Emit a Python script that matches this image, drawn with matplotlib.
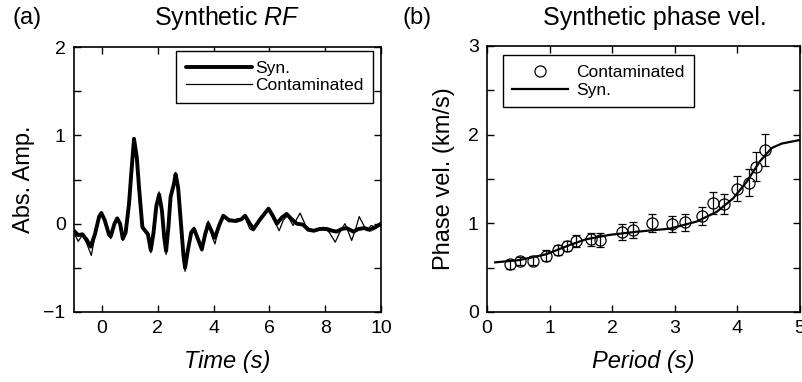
import matplotlib
matplotlib.use("Agg")
import matplotlib.pyplot as plt
from matplotlib.ticker import MultipleLocator, FuncFormatter

plt.rcParams['font.family'] = ['Liberation Sans', 'DejaVu Sans']
plt.rcParams['mathtext.fontset'] = 'custom'
plt.rcParams['mathtext.rm'] = 'Liberation Sans'
plt.rcParams['mathtext.it'] = 'Liberation Sans:italic'

# Panel (a): receiver functions
t_syn = [-1.0, -0.85, -0.70, -0.55, -0.40, -0.25, -0.10, -0.02, 0.10, 0.25, 0.32, 0.45, 0.55,
         0.65, 0.75, 0.85, 0.97, 1.05, 1.15, 1.25, 1.33, 1.45, 1.55, 1.65, 1.75, 1.85, 1.95,
         2.05, 2.15, 2.23, 2.30, 2.38, 2.46, 2.58, 2.64, 2.73, 2.82, 2.92, 2.98, 3.08, 3.20,
         3.30, 3.45, 3.58, 3.70, 3.81, 3.95, 4.05, 4.20, 4.35, 4.55, 4.80, 5.00, 5.13, 5.30,
         5.43, 5.67, 5.97, 6.12, 6.27, 6.45, 6.62, 6.80, 6.98, 7.20, 7.40, 7.60, 7.80, 8.06,
         8.25, 8.41, 8.60, 8.77, 9.01, 9.20, 9.40, 9.60, 9.80, 10.0]
a_syn = [-0.08, -0.13, -0.12, -0.18, -0.26, -0.12, 0.08, 0.12, 0.04, -0.12, -0.14, 0.0, 0.06,
         0.0, -0.17, -0.10, 0.22, 0.56, 0.96, 0.75, 0.41, -0.04, -0.08, -0.12, -0.30, -0.10, 0.20,
         0.33, 0.15, -0.15, -0.31, -0.05, 0.30, 0.45, 0.56, 0.41, 0.05, -0.35, -0.50, -0.30, -0.10,
         -0.06, -0.18, -0.29, -0.12, 0.0, -0.10, -0.16, -0.02, 0.09, 0.04, 0.03, 0.05, 0.09, 0.0,
         -0.06, 0.05, 0.17, 0.09, 0.0, 0.07, 0.11, 0.05, 0.0, -0.01, -0.07, -0.08, -0.06, -0.06,
         -0.08, -0.09, -0.06, -0.05, -0.09, -0.06, -0.05, -0.07, -0.04, 0.0]
t_con = [-1.0, -0.85, -0.70, -0.55, -0.38, -0.25, -0.10, -0.02, 0.10, 0.25, 0.32, 0.45, 0.55,
         0.65, 0.75, 0.85, 0.97, 1.05, 1.15, 1.25, 1.33, 1.45, 1.55, 1.65, 1.75, 1.85, 1.95,
         2.05, 2.15, 2.23, 2.30, 2.38, 2.46, 2.58, 2.64, 2.73, 2.82, 2.92, 2.98, 3.08, 3.20,
         3.30, 3.45, 3.58, 3.70, 3.81, 3.95, 4.05, 4.20, 4.35, 4.55, 4.80, 5.00, 5.13, 5.30,
         5.43, 5.67, 5.97, 6.15, 6.35, 6.50, 6.65, 6.85, 7.10, 7.30, 7.45, 7.64, 7.94, 8.15,
         8.36, 8.55, 8.71, 8.95, 9.10, 9.22, 9.35, 9.49, 9.65, 9.80, 10.0]
a_con = [-0.10, -0.20, -0.13, -0.22, -0.36, -0.14, 0.08, 0.13, 0.03, -0.14, -0.17, 0.0, 0.07,
         0.0, -0.19, -0.08, 0.26, 0.58, 0.94, 0.72, 0.40, -0.06, -0.08, -0.14, -0.33, -0.12, 0.22,
         0.36, 0.16, -0.16, -0.35, -0.06, 0.30, 0.47, 0.58, 0.42, 0.05, -0.40, -0.54, -0.32, -0.08,
         -0.04, -0.18, -0.31, -0.10, 0.03, -0.15, -0.23, -0.03, 0.09, 0.02, 0.05, 0.06, 0.07, -0.06,
         -0.08, 0.05, 0.17, 0.05, -0.08, 0.04, 0.09, -0.02, 0.12, -0.02, -0.06, -0.08, -0.04, -0.10,
         -0.21, -0.08, 0.0, -0.19, -0.05, 0.08, 0.0, -0.08, -0.02, -0.04, -0.02]

# Panel (b): phase velocity
period = [0.36, 0.53, 0.73, 0.95, 1.13, 1.27, 1.42, 1.66, 1.81, 2.16, 2.34, 2.64, 2.95,
          3.16, 3.44, 3.61, 3.78, 3.99, 4.19, 4.30, 4.44]
vel = [0.54, 0.575, 0.58, 0.635, 0.70, 0.745, 0.80, 0.82, 0.81, 0.905, 0.93, 1.0, 0.99,
       1.01, 1.08, 1.23, 1.22, 1.39, 1.46, 1.64, 1.83]
err = [0.05, 0.05, 0.05, 0.06, 0.06, 0.06, 0.07, 0.07, 0.08, 0.09, 0.09, 0.10, 0.09,
       0.10, 0.10, 0.12, 0.11, 0.14, 0.15, 0.16, 0.18]
p_syn = [0.13, 0.51, 0.94, 1.32, 1.58, 1.96, 2.39, 2.92, 3.35, 3.67, 3.93, 4.15, 4.36,
         4.55, 4.71, 5.0]
v_syn = [0.56, 0.585, 0.65, 0.755, 0.82, 0.87, 0.905, 0.94, 1.02, 1.13, 1.28, 1.47, 1.70,
         1.85, 1.90, 1.94]

fig = plt.figure(figsize=(8.02, 3.82), dpi=100)
W, H = 802, 382
axa = fig.add_axes([74 / W, 1 - 312 / H, (381 - 74) / W, (312 - 47) / H])
axb = fig.add_axes([487 / W, 1 - 312 / H, (800 - 487) / W, (312 - 46) / H])

fmt_int = FuncFormatter(lambda v, p: ("\u2212%d" % abs(round(v))) if v < 0 else "%d" % round(v))

for ax in (axa, axb):
    for s in ax.spines.values():
        s.set_linewidth(1.2)
    ax.tick_params(which='both', direction='in', top=True, right=True, length=5,
                   width=1.0, labelsize=14)
    ax.tick_params(axis='x', pad=6)
    ax.tick_params(axis='y', pad=6)
    ax.yaxis.set_major_locator(MultipleLocator(1))
    ax.yaxis.set_minor_locator(MultipleLocator(0.5))
    ax.yaxis.set_major_formatter(fmt_int)
    ax.tick_params(which='minor', length=5, width=1.0)

axa.plot(t_syn, a_syn, color='black', lw=2.8, label='Syn.', solid_joinstyle='round',
         solid_capstyle='round')
axa.plot(t_con, a_con, color='black', lw=0.9, label='Contaminated')
axa.set_xlim(-1, 10)
axa.set_ylim(-1, 2)
axa.xaxis.set_major_locator(MultipleLocator(2))
axa.xaxis.set_major_formatter(fmt_int)
axa.set_xlabel('Time (s)', fontsize=17, style='italic', labelpad=9)
axa.set_ylabel('Abs. Amp.', fontsize=17, labelpad=6)
leg = axa.legend(loc='upper right', bbox_to_anchor=(0.975, 0.985), borderaxespad=0.0,
                 fontsize=12.5, handlelength=3.8, handletextpad=0.2, borderpad=0.55,
                 labelspacing=0.15, fancybox=False, edgecolor='black', framealpha=1)
leg.get_frame().set_linewidth(1.0)

eb = axb.errorbar(period, vel, yerr=err, fmt='o', mfc='none', mec='black', ecolor='black',
                  ms=8, mew=0.9, elinewidth=0.9, capsize=3)
ln, = axb.plot(p_syn, v_syn, color='black', lw=1.6)
axb.set_xlim(0, 5)
axb.set_ylim(0, 3)
axb.xaxis.set_major_locator(MultipleLocator(1))
axb.xaxis.set_major_formatter(fmt_int)
axb.set_xlabel('Period (s)', fontsize=17, style='italic', labelpad=9)
axb.set_ylabel('Phase vel. (km/s)', fontsize=17, labelpad=9)
legb = axb.legend([eb[0], ln], ['Contaminated', 'Syn.'], loc='upper left',
                  bbox_to_anchor=(0.05, 0.965), borderaxespad=0.0, fontsize=12.5,
                  handlelength=3.2, handletextpad=0.5, borderpad=0.55, labelspacing=0.15,
                  fancybox=False, edgecolor='black', framealpha=1)
legb.get_frame().set_linewidth(1.0)

fig.text(227 / W, 1 - 18 / H, r'Synthetic $\mathit{RF}$', fontsize=18, ha='center', va='center')
fig.text(655 / W, 1 - 18 / H, 'Synthetic phase vel.', fontsize=18, ha='center', va='center')
fig.text(12 / W, 1 - 18 / H, '(a)', fontsize=17, ha='left', va='center')
fig.text(403 / W, 1 - 18 / H, '(b)', fontsize=17, ha='left', va='center')

fig.savefig('out.png', dpi=100)
